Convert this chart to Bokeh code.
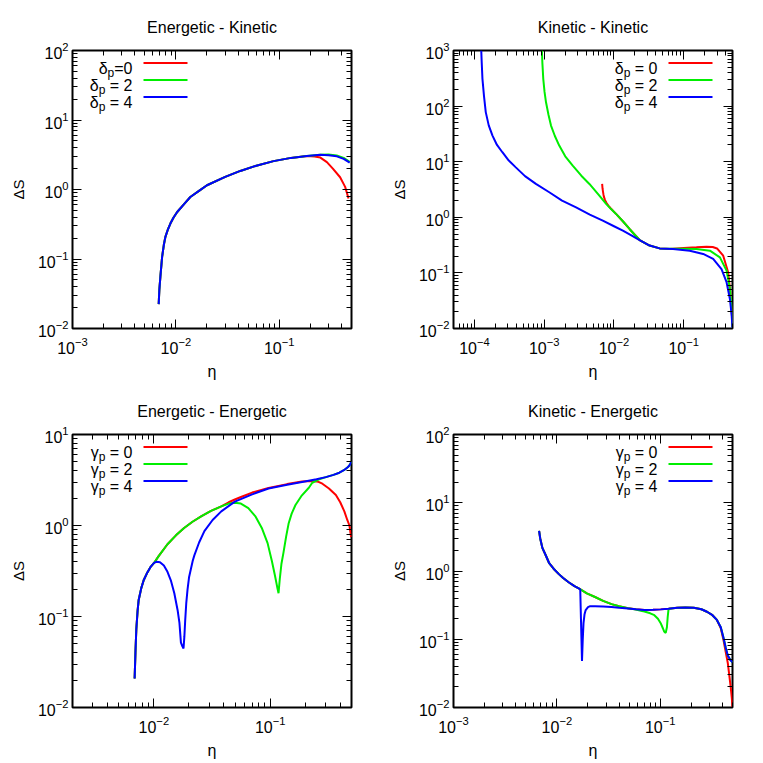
from bokeh.plotting import figure
from bokeh.layouts import column, row
from bokeh.models import LogAxis, FixedTicker, LogTickFormatter, Label, BoxAnnotation, CustomJSTickFormatter
from bokeh.embed import file_html
from bokeh.resources import INLINE

FONT = "Liberation Sans"
COLORS = ["#ff0000", "#00ee00", "#0000ff"]

# ---------------- Panel 1: Energetic - Kinetic ----------------
ek_eta_d4 = [0.00682, 0.00692, 0.00708, 0.00736, 0.00765, 0.00792, 0.00840, 0.00885, 0.0095, 0.0103,
             0.0120, 0.0138, 0.0170, 0.0200, 0.0300, 0.0420, 0.0600, 0.0880, 0.130, 0.185,
             0.250, 0.300, 0.360, 0.420, 0.480]
ek_dS_d4 = [0.0224, 0.036, 0.0553, 0.107, 0.160, 0.208, 0.270, 0.324, 0.395, 0.475,
            0.615, 0.78, 0.97, 1.15, 1.52, 1.85, 2.20, 2.56, 2.85, 3.03,
            3.15, 3.12, 3.00, 2.76, 2.43]
ek_eta_d2 = ek_eta_d4
ek_dS_d2 = [0.0224, 0.036, 0.0553, 0.107, 0.160, 0.208, 0.270, 0.324, 0.395, 0.475,
            0.615, 0.78, 0.97, 1.15, 1.52, 1.85, 2.20, 2.56, 2.85, 3.03,
            3.17, 3.18, 3.08, 2.85, 2.50]
ek_eta_d0 = [0.00682, 0.00692, 0.00708, 0.00736, 0.00765, 0.00792, 0.00840, 0.00885, 0.0095, 0.0103,
             0.0120, 0.0138, 0.0170, 0.0200, 0.0300, 0.0420, 0.0600, 0.0880, 0.130, 0.185,
             0.220, 0.250, 0.289, 0.330, 0.388, 0.434, 0.468]
ek_dS_d0 = [0.0224, 0.036, 0.0553, 0.107, 0.160, 0.208, 0.270, 0.324, 0.395, 0.475,
            0.615, 0.78, 0.97, 1.15, 1.52, 1.85, 2.20, 2.56, 2.85, 3.03,
            2.98, 2.88, 2.48, 2.00, 1.50, 1.09, 0.74]

# ---------------- Panel 2: Kinetic - Kinetic ----------------
kk_eta_d4 = [1.25e-4, 1.27e-4, 1.30e-4, 1.37e-4, 1.45e-4, 1.60e-4, 1.81e-4, 2.1e-4, 2.51e-4, 3.1e-4,
             3.91e-4, 5.3e-4, 7.59e-4, 1.18e-3, 1.8e-3, 2.86e-3, 4.5e-3, 6.91e-3, 0.0100, 0.0134,
             0.0180, 0.0233, 0.0324, 0.0452, 0.0703, 0.122, 0.190, 0.264, 0.348, 0.411,
             0.459, 0.485, 0.500]
kk_dS_d4 = [1000, 600, 309, 150, 78, 45, 29.5, 20, 14.8, 10.5,
            7.9, 5.5, 4.0, 2.82, 2.0, 1.51, 1.12, 0.87, 0.69, 0.575,
            0.47, 0.39, 0.31, 0.276, 0.269, 0.251, 0.219, 0.178, 0.117, 0.068,
            0.034, 0.018, 0.01]
kk_eta_d2 = [9.25e-4, 9.4e-4, 9.68e-4, 1.01e-3, 1.06e-3, 1.15e-3, 1.25e-3, 1.42e-3, 1.64e-3, 2.0e-3,
             2.56e-3, 3.4e-3, 4.44e-3, 6.0e-3, 7.71e-3, 0.0090, 0.0107, 0.0135, 0.0167, 0.0200,
             0.0233, 0.0324, 0.0452, 0.0703, 0.100, 0.152, 0.237, 0.330, 0.411, 0.459,
             0.485, 0.500]
kk_dS_d2 = [1000, 600, 309, 180, 117, 70, 44.7, 29, 19.5, 12.5,
            8.5, 5.6, 3.98, 2.55, 1.74, 1.42, 1.15, 0.84, 0.617, 0.48,
            0.39, 0.31, 0.276, 0.271, 0.272, 0.270, 0.251, 0.190, 0.110, 0.052,
            0.025, 0.01]
kk_eta_d0 = [6.76e-3, 6.85e-3, 6.95e-3, 7.07e-3, 7.2e-3, 7.4e-3, 7.6e-3, 7.9e-3, 8.3e-3, 9.0e-3,
             0.0107, 0.0135, 0.0167, 0.0200, 0.0233, 0.0324, 0.0452, 0.0630, 0.100, 0.152,
             0.212, 0.260, 0.300, 0.368, 0.434, 0.474, 0.490, 0.500]
kk_dS_d0 = [3.98, 3.3, 2.9, 2.55, 2.3, 2.08, 1.92, 1.76, 1.62, 1.44,
            1.15, 0.84, 0.617, 0.48, 0.39, 0.31, 0.276, 0.270, 0.280, 0.288,
            0.296, 0.292, 0.275, 0.204, 0.102, 0.034, 0.018, 0.01]

# ---------------- Panel 3: Energetic - Energetic ----------------
ee_eta_g4 = [0.00684, 0.00695, 0.00707, 0.00725, 0.00741, 0.00780, 0.00818, 0.00880, 0.00935, 0.0100,
             0.01055, 0.0113, 0.0122, 0.0131, 0.0140, 0.0150, 0.0160, 0.0166, 0.0171, 0.0176,
             0.0180, 0.0183, 0.0186, 0.0190, 0.0195, 0.0201, 0.0216, 0.0223, 0.0245, 0.0272,
             0.032, 0.038, 0.0497, 0.070, 0.0968, 0.140, 0.188, 0.250, 0.301, 0.350,
             0.393, 0.430, 0.464, 0.485, 0.500]
ee_dS_g4 = [0.0208, 0.040, 0.072, 0.115, 0.152, 0.205, 0.25, 0.305, 0.348, 0.385,
            0.40, 0.395, 0.363, 0.31, 0.25, 0.18, 0.118, 0.085, 0.0517, 0.047,
            0.0445, 0.06, 0.09, 0.14, 0.20, 0.272, 0.41, 0.47, 0.65, 0.867,
            1.15, 1.43, 1.83, 2.20, 2.55, 2.80, 3.01, 3.22, 3.40, 3.60,
            3.80, 4.05, 4.36, 4.65, 5.07]
ee_eta_g2 = [0.00684, 0.00695, 0.00707, 0.00725, 0.00741, 0.00780, 0.00818, 0.00880, 0.00935, 0.0100,
             0.0110, 0.0131, 0.0155, 0.0182, 0.0215, 0.0255, 0.031, 0.038, 0.044, 0.0497,
             0.056, 0.0649, 0.075, 0.0847, 0.095, 0.1033, 0.110, 0.115, 0.118, 0.121,
             0.125, 0.130, 0.137, 0.144, 0.153, 0.165, 0.185, 0.215, 0.230, 0.260,
             0.301, 0.350, 0.393, 0.430, 0.464, 0.485, 0.500]
ee_dS_g2 = [0.0208, 0.040, 0.072, 0.115, 0.152, 0.205, 0.25, 0.305, 0.348, 0.385,
            0.46, 0.622, 0.78, 0.94, 1.10, 1.26, 1.45, 1.62, 1.74, 1.78,
            1.74, 1.55, 1.25, 0.94, 0.64, 0.41, 0.28, 0.21, 0.18, 0.26,
            0.38, 0.50, 0.75, 1.05, 1.35, 1.68, 2.10, 2.60, 2.95, 3.20,
            3.40, 3.60, 3.80, 4.05, 4.36, 4.65, 5.07]
ee_eta_g0 = [0.00684, 0.00695, 0.00707, 0.00725, 0.00741, 0.00780, 0.00818, 0.00880, 0.00935, 0.0100,
             0.0110, 0.0131, 0.0155, 0.0182, 0.0215, 0.0255, 0.031, 0.038, 0.044, 0.0497,
             0.0568, 0.070, 0.0968, 0.140, 0.188, 0.230, 0.260, 0.281, 0.320, 0.367,
             0.400, 0.434, 0.460, 0.480, 0.496]
ee_dS_g0 = [0.0208, 0.040, 0.072, 0.115, 0.152, 0.205, 0.25, 0.305, 0.348, 0.385,
            0.46, 0.622, 0.78, 0.94, 1.10, 1.26, 1.45, 1.62, 1.80, 1.93,
            2.07, 2.30, 2.58, 2.85, 3.05, 3.08, 3.02, 2.88, 2.55, 2.16,
            1.80, 1.43, 1.15, 1.00, 0.746]

# ---------------- Panel 4: Kinetic - Energetic ----------------
ke_eta_g0 = [0.00673, 0.00690, 0.00724, 0.00780, 0.00839, 0.0093, 0.01045, 0.0115, 0.0130, 0.0148,
             0.0166, 0.0195, 0.0234, 0.0280, 0.0338, 0.0400, 0.0488, 0.0580, 0.0703, 0.0850,
             0.101, 0.120, 0.146, 0.175, 0.211, 0.250, 0.283, 0.320, 0.353, 0.385,
             0.409, 0.430, 0.450, 0.465, 0.480, 0.492, 0.500]
ke_dS_g0 = [3.86, 3.0, 2.18, 1.70, 1.32, 1.08, 0.90, 0.79, 0.684, 0.60,
            0.548, 0.47, 0.416, 0.365, 0.327, 0.305, 0.285, 0.275, 0.268, 0.270,
            0.274, 0.280, 0.289, 0.292, 0.289, 0.275, 0.253, 0.225, 0.192, 0.145,
            0.097, 0.065, 0.045, 0.030, 0.020, 0.014, 0.010]
ke_eta_g2 = [0.00673, 0.00690, 0.00724, 0.00780, 0.00839, 0.0093, 0.01045, 0.0115, 0.0130, 0.0148,
             0.0166, 0.0195, 0.0234, 0.0280, 0.0338, 0.0400, 0.0488, 0.0580, 0.0650, 0.0703,
             0.080, 0.0877, 0.095, 0.101, 0.106, 0.109, 0.113, 0.116, 0.118, 0.120,
             0.122, 0.146, 0.175, 0.211, 0.250, 0.283, 0.320, 0.353, 0.385, 0.409,
             0.430, 0.450, 0.475, 0.500]
ke_dS_g2 = [3.86, 3.0, 2.18, 1.70, 1.32, 1.08, 0.90, 0.79, 0.684, 0.60,
            0.548, 0.47, 0.416, 0.365, 0.327, 0.305, 0.285, 0.272, 0.262, 0.255,
            0.240, 0.225, 0.200, 0.172, 0.145, 0.130, 0.124, 0.150, 0.210, 0.268,
            0.279, 0.289, 0.292, 0.289, 0.275, 0.253, 0.225, 0.192, 0.150, 0.105,
            0.075, 0.058, 0.050, 0.046]
ke_eta_g4 = [0.00673, 0.00690, 0.00724, 0.00780, 0.00839, 0.0093, 0.01045, 0.0115, 0.0130, 0.0148,
             0.0166, 0.01683, 0.0171, 0.0175, 0.0178, 0.0181, 0.0185, 0.0190, 0.0200, 0.0210,
             0.0234, 0.0280, 0.0338, 0.0400, 0.0488, 0.0580, 0.0703, 0.0850, 0.101, 0.120,
             0.146, 0.175, 0.211, 0.250, 0.283, 0.320, 0.353, 0.385, 0.409, 0.430,
             0.450, 0.475, 0.500]
ke_dS_g4 = [3.86, 3.0, 2.18, 1.70, 1.32, 1.08, 0.90, 0.79, 0.684, 0.60,
            0.548, 0.535, 0.20, 0.048, 0.10, 0.172, 0.23, 0.268, 0.295, 0.305,
            0.305, 0.303, 0.298, 0.290, 0.283, 0.275, 0.268, 0.270, 0.274, 0.280,
            0.289, 0.292, 0.289, 0.275, 0.253, 0.225, 0.192, 0.150, 0.105, 0.075,
            0.058, 0.050, 0.046]

# legend texts: symbol, subscript, remainder
delta_sym, gamma_sym, sub_p = "δ", "γ", "p"
rest_a = ["=0", " = 2", " = 4"]
rest_b = [" = 0", " = 2", " = 4"]

FRAME_W = 279
ML = 72

# Arial / Liberation Sans advance widths (per 1000 em) for legend layout
ADV = {" ": 278, "=": 584, "0": 556, "2": 556, "4": 556, "p": 556, "δ": 556, "γ": 500}


def text_w(s, size):
    return sum(ADV[c] for c in s) * size / 1000.0


def log_ticks(lo, hi):
    major, minor = [], []
    for e in range(-6, 4):
        base = float("1e%d" % e)
        if lo * 0.999 <= base <= hi * 1.001:
            major.append(base)
        for k in range(2, 10):
            v = float("%de%d" % (k, e))
            if lo <= v <= hi:
                minor.append(v)
    return major, minor


def setup_axis(ax, lo, hi, show_labels, standoff):
    major, minor = log_ticks(lo, hi)
    ax.ticker = FixedTicker(ticks=major, minor_ticks=minor)
    ax.axis_line_color = None
    ax.major_tick_in = 9
    ax.major_tick_out = 0
    ax.minor_tick_in = 5
    ax.minor_tick_out = 0
    ax.major_tick_line_color = "black"
    ax.minor_tick_line_color = "black"
    ax.major_tick_line_width = 1
    ax.minor_tick_line_width = 1
    ax.major_label_text_font = FONT
    ax.major_label_text_color = "black"
    ax.axis_label_text_font = FONT
    ax.axis_label_text_font_style = "normal"
    ax.axis_label_text_color = "black"
    if show_labels:
        ax.formatter = LogTickFormatter()
        ax.major_label_text_font_size = "16px"
        ax.major_label_standoff = standoff
    else:
        ax.formatter = CustomJSTickFormatter(code="return '';")
        ax.major_label_text_font_size = "1px"
        ax.major_label_standoff = 0


def make_panel(title, xr, yr, series, sym, rests, legend_right, width, height, mt, mb):
    frame_h = height - mt - mb
    p = figure(width=width, height=height, x_axis_type="log", y_axis_type="log",
               x_range=xr, y_range=yr, output_backend="svg", toolbar_location=None,
               min_border_left=ML, min_border_right=width - ML - FRAME_W,
               min_border_top=mt, min_border_bottom=mb, title=title)
    p.title.text_font = FONT
    p.title.text_font_size = "16px"
    p.title.text_font_style = "normal"
    p.title.text_color = "black"
    p.title.align = "center"
    p.title.standoff = 29
    p.grid.visible = False
    p.outline_line_color = "black"
    p.outline_line_width = 2
    p.background_fill_color = "white"
    p.border_fill_color = "white"

    setup_axis(p.xaxis[0], xr[0], xr[1], True, 8)
    setup_axis(p.yaxis[0], yr[0], yr[1], True, 4)
    p.xaxis[0].axis_label = "η"
    p.xaxis[0].axis_label_text_font_size = "16px"
    p.xaxis[0].axis_label_standoff = 6
    p.yaxis[0].axis_label = "ΔS"
    p.yaxis[0].axis_label_text_font_size = "15px"
    p.yaxis[0].axis_label_standoff = 8

    top_ax = LogAxis()
    setup_axis(top_ax, xr[0], xr[1], False, 0)
    p.add_layout(top_ax, "above")
    right_ax = LogAxis()
    setup_axis(right_ax, yr[0], yr[1], False, 0)
    p.add_layout(right_ax, "right")

    for (xs, ys), c in zip(series, COLORS):
        p.line(xs, ys, line_color=c, line_width=2)

    if legend_right:
        tx, l0, l1 = FRAME_W - 75, FRAME_W - 64, FRAME_W - 20
    else:
        tx, l0, l1 = 60, 71, 115
    for i, (rest, c) in enumerate(zip(rests, COLORS)):
        yy = frame_h - 12.5 - 17 * i
        w_rest = text_w(rest, 16)
        w_sub = text_w(sub_p, 12)
        common = dict(x_units="screen", y_units="screen", text_align="right",
                      text_baseline="alphabetic", text_font=FONT, text_color="black")
        p.add_layout(Label(x=tx, y=yy - 5.5, text=rest.lstrip(), text_font_size="16px", **common))
        p.add_layout(Label(x=tx - w_rest, y=yy - 10, text=sub_p, text_font_size="12px", **common))
        p.add_layout(Label(x=tx - w_rest - w_sub, y=yy - 5.5, text=sym, text_font_size="16px", **common))
        p.add_layout(BoxAnnotation(left=l0, right=l1, bottom=yy - 1, top=yy + 1,
                                   left_units="screen", right_units="screen",
                                   bottom_units="screen", top_units="screen",
                                   fill_color=c, fill_alpha=1.0, line_color=None))
    return p


p1 = make_panel("Energetic - Kinetic", (1e-3, 0.5), (1e-2, 1e2),
                [(ek_eta_d0, ek_dS_d0), (ek_eta_d2, ek_dS_d2), (ek_eta_d4, ek_dS_d4)],
                delta_sym, rest_a, False, 381, 384, 50, 56)
p2 = make_panel("Kinetic - Kinetic", (5e-5, 0.5), (1e-2, 1e3),
                [(kk_eta_d0, kk_dS_d0), (kk_eta_d2, kk_dS_d2), (kk_eta_d4, kk_dS_d4)],
                delta_sym, rest_b, True, 376, 384, 50, 56)
p3 = make_panel("Energetic - Energetic", (2e-3, 0.5), (1e-2, 1e1),
                [(ee_eta_g0, ee_dS_g0), (ee_eta_g2, ee_dS_g2), (ee_eta_g4, ee_dS_g4)],
                gamma_sym, rest_b, False, 381, 379, 50, 56)
p4 = make_panel("Kinetic - Energetic", (1e-3, 0.5), (1e-2, 1e2),
                [(ke_eta_g0, ke_dS_g0), (ke_eta_g2, ke_dS_g2), (ke_eta_g4, ke_dS_g4)],
                gamma_sym, rest_b, True, 376, 379, 50, 56)

layout = column(row(p1, p2), row(p3, p4))

with open("out.html", "w") as f:
    f.write(file_html(layout, INLINE))
